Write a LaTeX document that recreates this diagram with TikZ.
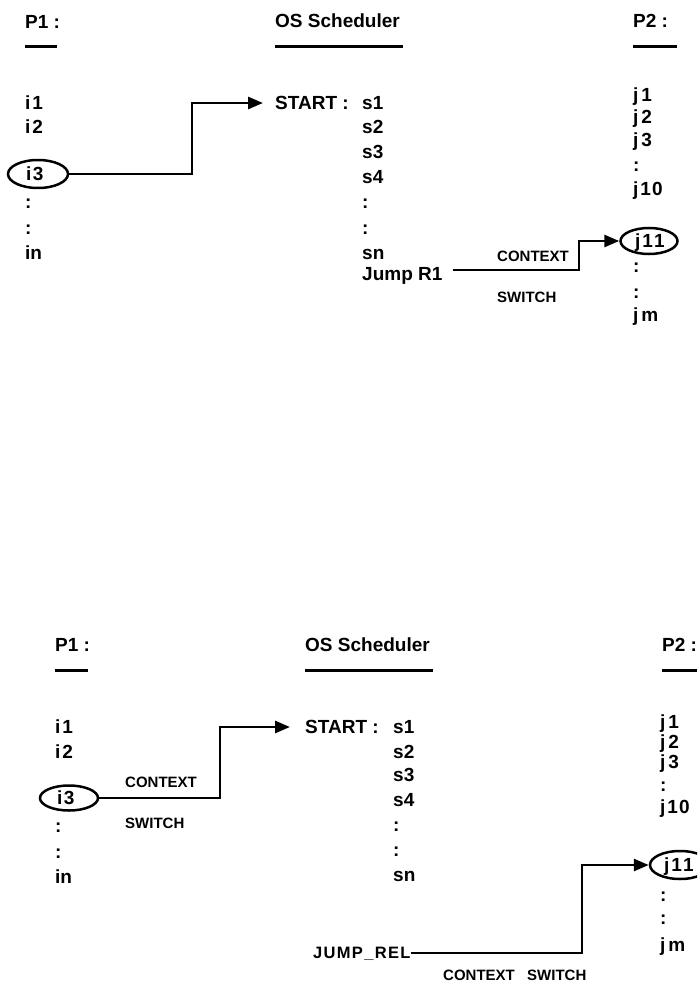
\documentclass[tikz,border=0pt]{standalone}
\usepackage{fontspec}
\setmainfont{Liberation Sans}
\usetikzlibrary{arrows.meta,shapes.geometric}
\begin{document}
\begin{tikzpicture}[x=1pt,y=-1pt,
  txt/.style={anchor=west,inner sep=0pt,font=\fontsize{19}{19}\selectfont\bfseries,text height=13.6pt,text depth=0pt},
  lbl/.style={anchor=west,inner sep=0pt,font=\fontsize{15}{15}\selectfont\bfseries,text height=11pt,text depth=0pt},
  jlbl/.style={anchor=west,inner sep=0pt,font=\fontsize{16.5}{16.5}\selectfont\bfseries\addfontfeature{LetterSpace=8},text height=11.8pt,text depth=0pt},
  uline/.style={line width=3pt},
  conn/.style={line width=2.8pt,-{Triangle[length=15pt,width=12pt]}},
  ell/.style={draw,ellipse,line width=2.5pt,inner sep=0pt}
]
\clip (0,0) rectangle (697,984);
\useasboundingbox (0,0) rectangle (697,984);

% ================= TOP PANEL =================
\node[txt] (tp1) at (25,22) {P1 :};
\node[txt] (tos) at (275,21) {OS Scheduler};
\node[txt] (tp2) at (633,21) {P2 :};
\draw[uline] (25,47) -- (57,47);
\draw[uline] (275,47) -- (403,47);
\draw[uline] (633,47) -- (677,47);

% P1 column
\node[txt] (ti1) at (25,103) {i\kern2pt 1};
\node[txt] (ti2) at (25,127) {i\kern2pt 2};
\node[txt] (ti3) at (26,174) {i\kern1.5pt 3};
\node[ell,minimum width=60pt,minimum height=28pt] (te1) at (38,174) {};
\node[txt] (tid1) at (25,202) {:};
\node[txt] (tid2) at (25,228) {:};
\node[txt] (tin) at (25,253) {in};

% Scheduler column
\node[txt] (tst) at (275,103) {START :};
\node[txt] (ts1) at (362,103) {s1};
\node[txt] (ts2) at (362,127) {s2};
\node[txt] (ts3) at (362,152) {s3};
\node[txt] (ts4) at (362,177) {s4};
\node[txt] (tsd1) at (362,202) {:};
\node[txt] (tsd2) at (362,228) {:};
\node[txt] (tsn) at (362,253) {sn};
\node[txt] (tjr) at (362,274) {Jump R1};

% P2 column
\node[txt] (tj1) at (633,95) {j\kern3pt 1};
\node[txt] (tj2) at (633,117) {j\kern3pt 2};
\node[txt] (tj3) at (633,140) {j\kern3pt 3};
\node[txt] (tjd0) at (633,165) {:};
\node[txt] (tj10) at (633,189) {j\kern2pt 1\kern1pt 0};
\node[txt] (tj11) at (635,241) {j\kern2pt 1\kern1pt 1};
\node[ell,minimum width=57pt,minimum height=26pt] (te2) at (649,241) {};
\node[txt] (tjd1) at (633,266) {:};
\node[txt] (tjd2) at (633,292) {:};
\node[txt] (tjm) at (633,315) {j\kern3pt m};

% labels
\node[lbl] (tctx) at (497,256) {CONTEXT};
\node[lbl] (tsw) at (497,297) {SWITCH};

% connectors
\coordinate (tk1) at (192,174);
\coordinate (tt1) at (263,103);
\draw[conn] (te1.east) -- (tk1) |- (tt1);
\coordinate (ta2) at (453,270);
\coordinate (tk2) at (579,270);
\draw[conn] (ta2) -- (tk2) |- (te2.west);

% ================= BOTTOM PANEL =================
\node[txt] (bp1) at (55,645) {P1 :};
\node[txt] (bos) at (305,645) {OS Scheduler};
\node[txt] (bp2) at (662,645) {P2 :};
\draw[uline] (55,670) -- (88,670);
\draw[uline] (305,670) -- (433,670);
\draw[uline] (662,670) -- (697,670);

% P1 column
\node[txt] (bi1) at (55,727) {i\kern2pt 1};
\node[txt] (bi2) at (55,752) {i\kern2pt 2};
\node[txt] (bi3) at (57,798) {i\kern1.5pt 3};
\node[ell,minimum width=58pt,minimum height=25pt] (be1) at (69,798) {};
\node[txt] (bid1) at (55,826) {:};
\node[txt] (bid2) at (55,852) {:};
\node[txt] (bin) at (55,877) {in};

% Scheduler column
\node[txt] (bst) at (305,727) {START :};
\node[txt] (bs1) at (393,727) {s1};
\node[txt] (bs2) at (393,752) {s2};
\node[txt] (bs3) at (393,775) {s3};
\node[txt] (bs4) at (393,800) {s4};
\node[txt] (bsd1) at (393,825) {:};
\node[txt] (bsd2) at (393,850) {:};
\node[txt] (bsn) at (393,875) {sn};
\node[jlbl] (bjr) at (313,953) {JUMP\_REL};

% P2 column
\node[txt] (bj1) at (660,722) {j\kern3pt 1};
\node[txt] (bj2) at (660,742) {j\kern3pt 2};
\node[txt] (bj3) at (660,762) {j\kern3pt 3};
\node[txt] (bjd0) at (660,785) {:};
\node[txt] (bj10) at (660,807) {j\kern2pt 1\kern1pt 0};
\node[txt] (bj11) at (664,865) {j\kern2pt 1\kern1pt 1};
\node[ell,minimum width=60pt,minimum height=28pt] (be2) at (680,865) {};
\node[txt] (bjd1) at (660,895) {:};
\node[txt] (bjd2) at (660,918) {:};
\node[txt] (bjm) at (660,945) {j\kern3pt m};

% labels
\node[lbl] (bctx1) at (125,782) {CONTEXT};
\node[lbl] (bsw1) at (125,823) {SWITCH};
\node[lbl] (bctx2) at (443,975) {CONTEXT};
\node[lbl] (bsw2) at (527,975) {SWITCH};

% connectors
\coordinate (bk1) at (220,798);
\coordinate (bt1) at (290,727);
\draw[conn] (be1.east) -- (bk1) |- (bt1);
\coordinate (bk2) at (582,953);
\draw[conn] (bjr.east) -- (bk2) |- (be2.west);
\end{tikzpicture}
\end{document}
